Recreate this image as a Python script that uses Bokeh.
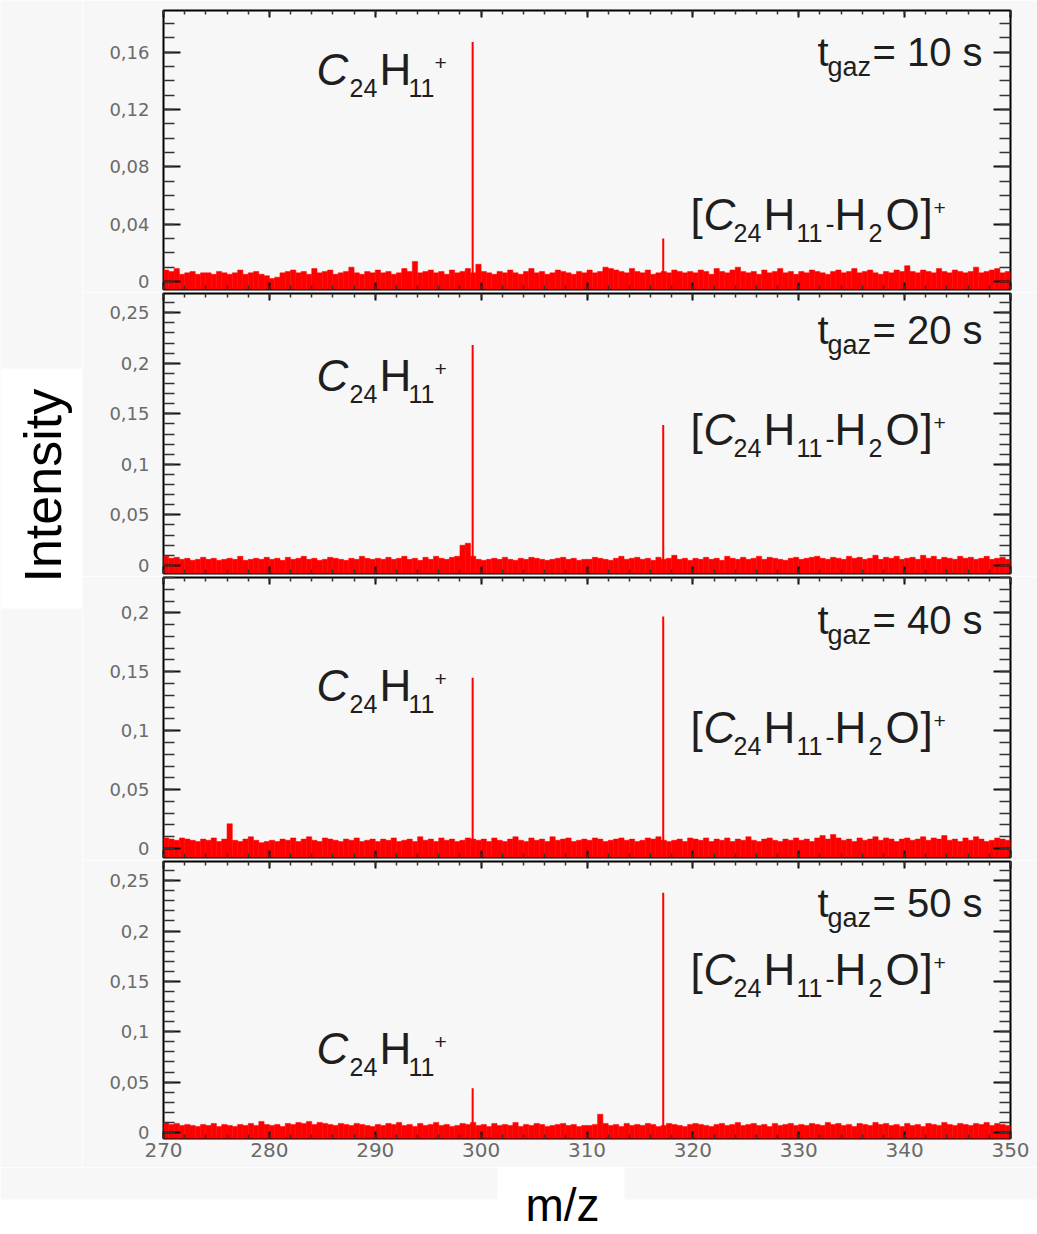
import math
from bokeh.plotting import figure
from bokeh.models import (Range1d, LinearAxis, FixedTicker, CustomJSTickFormatter,
                          Label, BoxAnnotation)
from bokeh.layouts import row, column
from bokeh.embed import file_html
from bokeh.resources import INLINE

# ---------------- data ----------------
MZ_START, MZ_END, BIN = 270.0, 350.0, 0.5
gas_times = ["10", "20", "40", "50"]
peak_mz = [299.2, 317.2]                      # C24H11+, [C24H11-H2O]+
peak_c24h11 = [0.167, 0.218, 0.145, 0.044]
peak_c24h11_h2o = [0.030, 0.139, 0.197, 0.238]

# baseline noise, one value per 0.5 m/z bin (units of 1e-3)
noise_10 = [8,7,9,5,6,7,5,6,6,5,7,6,5,6,8,5,6,7,5,4,
            2,3,6,7,8,6,7,5,9,6,7,8,5,6,7,10,6,5,7,6,
            8,6,7,5,6,9,7,14,6,7,8,6,7,5,8,6,7,9,6,12,
            7,6,5,7,6,8,6,5,7,9,6,7,5,6,8,7,6,5,7,6,
            8,6,7,10,9,8,7,6,9,7,6,8,5,6,7,6,8,7,6,7,
            6,8,7,5,9,7,6,8,10,7,6,7,5,8,6,7,9,6,7,5,
            7,6,8,7,6,5,7,8,6,7,9,6,7,8,6,5,7,6,8,7,
            11,7,6,8,7,6,9,7,6,8,7,6,7,10,6,7,8,9,6,7]
noise_20 = [9,7,8,6,7,5,6,8,6,7,5,6,7,6,9,5,6,7,6,8,
            6,7,5,8,6,7,9,6,7,5,6,8,7,6,5,7,6,9,7,6,
            7,6,8,6,7,9,6,7,5,8,6,9,7,6,8,9,20,22,9,6,
            5,6,7,6,8,6,5,7,6,8,7,6,5,6,7,8,6,7,5,6,
            6,8,7,6,5,7,9,6,7,8,6,7,5,8,6,7,10,6,7,5,
            7,6,8,6,7,5,9,7,6,8,6,7,9,6,8,7,6,5,7,8,
            6,7,8,9,7,6,8,7,6,9,7,8,6,7,10,6,8,7,9,6,
            7,8,6,10,7,9,6,8,7,6,9,7,8,6,7,9,6,7,8,6]
noise_40 = [9,8,7,9,8,7,6,8,7,9,6,8,21,7,6,8,10,7,5,6,
            7,6,8,7,9,6,8,10,7,6,9,8,7,6,8,7,9,6,7,8,
            6,8,7,9,6,7,8,6,10,7,8,6,9,7,8,6,7,9,8,7,
            8,6,9,7,6,8,10,7,6,9,7,8,6,10,7,8,9,6,7,8,
            7,9,8,6,7,8,9,7,8,6,7,9,8,10,7,6,7,8,6,9,
            8,7,9,6,8,7,9,6,8,7,10,7,6,8,9,7,6,8,7,9,
            7,8,6,9,11,8,12,9,7,8,6,9,7,8,10,7,9,8,6,8,
            9,7,8,10,7,9,8,11,7,8,6,9,7,10,8,6,7,9,8,7]
noise_50 = [10,8,9,7,8,7,6,8,7,9,6,8,7,6,8,7,9,7,11,8,
            7,8,6,9,8,10,9,11,8,10,9,8,7,9,8,7,9,8,7,6,
            8,7,9,8,10,7,8,6,9,7,8,10,7,8,6,7,9,8,10,7,
            8,6,9,7,8,7,10,6,8,7,9,8,6,7,8,9,7,8,6,7,
            7,8,18,9,7,8,6,9,7,8,7,9,8,6,7,9,8,7,6,8,
            9,8,7,6,8,9,7,8,10,7,8,9,7,8,6,9,7,8,9,7,
            8,7,9,8,7,10,8,9,7,8,6,9,8,7,10,8,9,7,8,6,
            9,7,8,6,9,8,7,10,8,7,9,8,7,9,8,10,7,9,8,7]
noise_sets = [noise_10, noise_20, noise_40, noise_50]

x_ticks = [270, 280, 290, 300, 310, 320, 330, 340, 350]
x_minor = [270 + 2 * i for i in range(41)]
y_ticks_first = [0, 0.04, 0.08, 0.12, 0.16]
y_ticks_rest = [0, 0.05, 0.1, 0.15, 0.2, 0.25]

# ---------------- layout constants ----------------
BG = "#f7f7f7"
RED = "#ff0000"
TXT = "#1e1e1e"
FRAME_L, FRAME_W = 163, 847
STRIP_W = 82
FIG_W = 1037 - STRIP_W
TOTAL_H = 1234
BOT_TOP = 1167          # page y where the bottom (m/z) strip starts
BASE_SHIFT = 0.4        # Label baseline correction, in em

panels = [
    # y range, page top of frame, border top, frame h, border bottom, text baselines
    dict(y=(-0.0056, 0.189), top=10, bt=10, fh=279, bb=3, tg=57, c1=77, c2=222, yt=y_ticks_first, ym=19),
    dict(y=(-0.008, 0.269), top=293, bt=1, fh=280, bb=3, tg=52, c1=100, c2=154, yt=y_ticks_rest, ym=27),
    dict(y=(-0.0076, 0.23), top=577, bt=1, fh=280, bb=3, tg=58, c1=126, c2=168, yt=y_ticks_rest, ym=24),
    dict(y=(-0.006, 0.269), top=861, bt=1, fh=277, bb=BOT_TOP - 1138, tg=57, c1=205, c2=126, yt=y_ticks_rest, ym=27),
]

TICK_FONT = "DejaVu Sans"
TEXT_FONT = "Liberation Sans"

y_fmt_code = """
if (tick === 0) { return '0'; }
return tick.toFixed(2).replace(/0+$/, '').replace('.', ',');
"""


def style_axis(ax, ticker, major_in, minor_in, show_labels, is_y):
    ax.ticker = ticker
    ax.axis_line_color = None
    ax.major_tick_in = major_in
    ax.major_tick_out = 0
    ax.minor_tick_in = minor_in
    ax.minor_tick_out = 0
    ax.major_tick_line_color = "#111111"
    ax.major_tick_line_width = 2
    ax.minor_tick_line_color = "#333333"
    ax.minor_tick_line_width = 1.5
    if show_labels:
        ax.major_label_text_font = TICK_FONT
        ax.major_label_text_font_size = "18px" if is_y else "20px"
        ax.major_label_text_color = "#6a6a6a"
        ax.major_label_standoff = 14 if is_y else 4
    else:
        ax.formatter = CustomJSTickFormatter(code="return '';")
        ax.major_label_text_font_size = "0px"
        ax.major_label_standoff = 0


def to_data(cfg, px, py):
    y0, y1 = cfg["y"]
    xd = MZ_START + (px - FRAME_L) * (MZ_END - MZ_START) / FRAME_W
    yd = y1 - (py - cfg["top"]) * (y1 - y0) / cfg["fh"]
    return xd, yd


def add_text(p, cfg, pieces, base):
    for text, xpx, dy, size, italic in pieces:
        xd, yd = to_data(cfg, xpx, cfg["top"] + base + dy - BASE_SHIFT * size)
        p.add_layout(Label(x=xd, y=yd, text=text, text_font=TEXT_FONT,
                           text_font_size=f"{size}px",
                           text_font_style="italic" if italic else "normal",
                           text_color=TXT, text_align="left",
                           text_baseline="alphabetic"))


figs = []
for i, cfg in enumerate(panels):
    y0, y1 = cfg["y"]
    h = cfg["bt"] + cfg["fh"] + cfg["bb"]
    p = figure(width=FIG_W, height=h, x_range=Range1d(MZ_START, MZ_END),
               y_range=Range1d(y0, y1), toolbar_location=None, output_backend="svg",
               x_axis_location=None, y_axis_location=None,
               min_border_left=FRAME_L - STRIP_W, min_border_right=1037 - FRAME_L - FRAME_W,
               min_border_top=cfg["bt"], min_border_bottom=cfg["bb"])
    p.background_fill_color = BG
    p.border_fill_color = BG
    p.outline_line_color = "#000000"
    p.outline_line_width = 2
    p.grid.grid_line_color = None

    yticker = FixedTicker(ticks=cfg["yt"], minor_ticks=[0.01 * k for k in range(cfg["ym"])])
    xticker = FixedTicker(ticks=x_ticks, minor_ticks=x_minor)

    left = LinearAxis(formatter=CustomJSTickFormatter(code=y_fmt_code))
    style_axis(left, yticker, 17, 11, True, True)
    p.add_layout(left, "left")
    right = LinearAxis()
    style_axis(right, yticker, 17, 11, False, True)
    p.add_layout(right, "right")
    top = LinearAxis()
    style_axis(top, xticker, 7, 4, False, False)
    p.add_layout(top, "above")
    bottom = LinearAxis()
    style_axis(bottom, xticker, 7, 4, i == 3, False)
    p.add_layout(bottom, "below")

    # noise spectrum
    noise = noise_sets[i]
    xs = [MZ_START + BIN * (k + 0.5) for k in range(len(noise))]
    tops = [v / 1000.0 for v in noise]
    p.vbar(x=xs, top=tops, bottom=y0, width=BIN, fill_color=RED, line_color=RED,
           line_width=0.5)
    # peaks
    p.segment(x0=peak_mz, y0=[0, 0], x1=peak_mz,
              y1=[peak_c24h11[i], peak_c24h11_h2o[i]], line_color=RED, line_width=2)

    # annotations
    add_text(p, cfg, [("t", 817, 0, 40, False), ("gaz", 827, 10, 27, False),
                      (f"= {gas_times[i]} s", 872, 0, 40, False)], cfg["tg"])
    add_text(p, cfg, [("C", 316, 0, 44, True), ("24", 349, 10, 25, False),
                      ("H", 379, 0, 44, False), ("11", 408, 10, 25, False),
                      ("+", 434, -16, 21, False)], cfg["c1"])
    add_text(p, cfg, [("[", 690, 0, 44, False), ("C", 703, 0, 44, True),
                      ("24", 733, 10, 25, False), ("H", 763, 0, 44, False),
                      ("11", 796, 10, 25, False), ("-", 825, 2, 27, False),
                      ("H", 834, 0, 44, False), ("2", 868, 10, 25, False),
                      ("O", 885, 0, 44, False), ("]", 920, 0, 44, False),
                      ("+", 933, -16, 21, False)], cfg["c2"])
    figs.append(p)

# left strip with Intensity label
lft = figure(width=STRIP_W, height=BOT_TOP, x_range=Range1d(0, STRIP_W),
             y_range=Range1d(0, BOT_TOP), toolbar_location=None, output_backend="svg",
             x_axis_location=None, y_axis_location=None, min_border=0)
lft.background_fill_color = BG
lft.border_fill_color = BG
lft.outline_line_color = None
lft.grid.grid_line_color = None
lft.add_layout(BoxAnnotation(left=0, right=STRIP_W, bottom=BOT_TOP - 608, top=BOT_TOP - 368,
                             fill_color="white", fill_alpha=1, line_color=None))
lft.add_layout(Label(x=42, y=BOT_TOP - 582, text="Intensity", angle=math.pi / 2,
                     text_font=TEXT_FONT, text_font_size="52px", text_color="#000000",
                     text_align="left", text_baseline="alphabetic"))

# bottom strip: grey band, white box and m/z label (page pixel coordinates)
BOT_H = TOTAL_H - BOT_TOP
bot = figure(width=1037, height=BOT_H, x_range=Range1d(0, 1037), y_range=Range1d(0, BOT_H),
             toolbar_location=None, output_backend="svg", x_axis_location=None,
             y_axis_location=None, min_border=0)
bot.background_fill_color = "white"
bot.border_fill_color = "white"
bot.outline_line_color = None
bot.grid.grid_line_color = None
for l, r in [(0, 497), (624, 1037)]:
    bot.add_layout(BoxAnnotation(left=l, right=r, bottom=TOTAL_H - 1199, top=BOT_H,
                                 fill_color=BG, fill_alpha=1, line_color=None))
bot.add_layout(Label(x=562, y=TOTAL_H - (1223 - BASE_SHIFT * 46), text="m/z",
                     text_font=TEXT_FONT, text_font_size="46px", text_color="#000000",
                     text_align="center", text_baseline="alphabetic"))

layout = column(row(lft, column(*figs)), bot)
open("out.html", "w").write(file_html(layout, INLINE))
